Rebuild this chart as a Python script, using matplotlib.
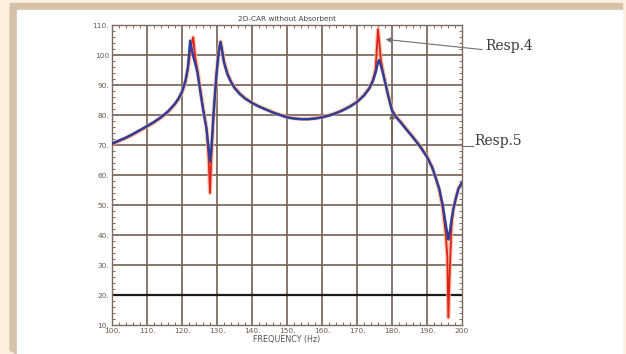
import matplotlib
matplotlib.use("Agg")
import matplotlib.pyplot as plt
from matplotlib.patches import Rectangle, Polygon
import numpy as np

# ---------------- data ----------------
freq = [100, 102, 104, 106, 108, 110, 112, 114, 116, 118, 119, 120, 121, 121.7,
        122.3, 122.8, 123.2, 123.8, 124.4, 125, 126, 127, 127.6, 128, 128.4, 129,
        129.8, 130.5, 131.0, 131.5, 132, 133, 134, 135, 136.5, 138, 140, 142, 144,
        146, 148, 150, 152, 154, 156, 158, 160, 162, 164, 166, 168, 170, 172,
        173.5, 174.5, 175.3, 176.0, 176.3, 176.8, 177.5, 178.3, 179, 180, 181,
        182.5, 184, 186, 188, 190, 191.5, 192.5, 193.5, 194.5, 195.3, 195.8,
        196.1, 196.5, 197, 197.5, 198.3, 199, 200]

resp5 = [70.5, 71.5, 72.5, 73.7, 75.0, 76.3, 77.7, 79.3, 81.2, 83.8, 85.5, 87.8, 91.5, 96,
         104.8, 102, 99.5, 97, 94.2, 89.5, 82, 75.5, 69, 64.5, 69, 80,
         93, 101, 104.3, 101, 97.5, 93.5, 91, 89, 87, 85.5, 84, 82.8, 81.8,
         80.8, 80, 79.2, 78.8, 78.6, 78.6, 78.8, 79.2, 79.8, 80.6, 81.6, 82.8, 84.3, 86.5,
         88.8, 91.2, 94, 97.5, 98.3, 96.5, 93.5, 89.5, 86, 81.5, 79.5,
         77.5, 75.3, 72.5, 69.5, 66, 62.5, 59, 55.5, 50, 44, 40.5,
         38.5, 41, 45, 48.5, 52.5, 55.5, 57.5]

resp4 = [70.2, 71.3, 72.3, 73.5, 74.8, 76.1, 77.5, 79.1, 81.0, 83.6, 85.3, 87.5, 91, 95.5,
         101, 104, 105.9, 99, 95, 90.5, 82.5, 75.5, 66, 54, 66, 80,
         93, 101.5, 104.5, 101.5, 97.8, 93.8, 91.2, 89.2, 87.2, 85.6, 84.1, 82.9, 81.9,
         80.9, 80.1, 79.3, 78.9, 78.7, 78.7, 78.9, 79.3, 79.9, 80.7, 81.7, 82.9, 84.4, 86.6,
         89, 91.5, 95, 108.6, 105, 98.5, 94, 89.8, 86.2, 81.7, 79.7,
         77.7, 75.5, 72.7, 69.7, 66.2, 62.5, 59, 55, 49, 41, 33,
         12.5, 28, 43, 48.5, 52.5, 55.5, 57.5]

x_ticks = [100, 110, 120, 130, 140, 150, 160, 170, 180, 190, 200]
x_ticklabels = ["100.", "110.", "120.", "130.", "140.", "150.", "160.", "170.", "180.", "190.", "200"]
y_ticks = [10, 20, 30, 40, 50, 60, 70, 80, 90, 100, 110]
y_ticklabels = ["10.", "20.", "30.", "40.", "50.", "60.", "70.", "80.", "90.", "100", "110."]

title = "2D-CAR without Absorbent"
xlabel = "FREQUENCY (Hz)"

# annotation anchors (data coordinates)
resp4_text = (206.6, 101.7)
resp4_tip = (177.4, 105.3)
resp5_start = (200.0, 69.6)
resp5_end = (203.2, 69.6)
resp5_corner = (180.0, 70.0)
resp5_tip = (180.0, 81.5)

# ---------------- figure ----------------
W, H = 626, 354
fig = plt.figure(figsize=(W / 100, H / 100), dpi=100)
fig.patch.set_facecolor("#FDF0E0")

def px(x0, y0, x1, y1):
    return (x0 / W, 1 - y1 / H), (x1 - x0) / W, (y1 - y0) / H

cream_tan = "#D5C0A8"
xy, w, h = px(10, 3, 622, 10)
fig.patches.append(Rectangle(xy, w, h, transform=fig.transFigure, color=cream_tan, zorder=-10))
fig.patches.append(Polygon([(10 / W, 1 - 10 / H), (17 / W, 1 - 10 / H), (17 / W, 0), (10 / W, 1 - 350 / H)],
                           closed=True, transform=fig.transFigure, color=cream_tan, zorder=-10))
xy, w, h = px(17, 10, 622, 354)
fig.patches.append(Rectangle(xy, w, h, transform=fig.transFigure, color="white", zorder=-10))

ax = fig.add_axes([112 / W, 1 - 325 / H, 350 / W, 300 / H])
ax.set_zorder(5)
ax.set_facecolor("white")
ax.set_xlim(100, 200)
ax.set_ylim(10, 110)

grid_c = "#735F53"
for xv in x_ticks[1:-1]:
    ax.axvline(xv, color=grid_c, lw=1.2, zorder=1)
for yv in y_ticks[1:-1]:
    ax.axhline(yv, color="#1a1a1a" if yv == 20 else grid_c, lw=1.6 if yv == 20 else 1.2, zorder=1)

ax.plot(freq, resp4, color="#F4B08A", lw=3.0, alpha=0.75, solid_joinstyle="round", zorder=2)
ax.plot(freq, resp4, color="#E0241C", lw=1.3, zorder=3)
ax.plot(freq, resp5, color="#2B3F9E", lw=1.7, zorder=4)

ax.set_xticks(x_ticks)
ax.set_xticklabels(x_ticklabels)
ax.set_yticks(y_ticks)
ax.set_yticklabels(y_ticklabels)
ax.set_xticks(np.arange(100, 201, 2), minor=True)
ax.set_yticks(np.arange(10, 111, 2), minor=True)
ax.tick_params(which="both", direction="in", top=True, right=True, color="#7a6a60",
               labelsize=5.3, labelcolor="#6b5a50", pad=2)
ax.tick_params(which="major", length=0)
ax.tick_params(which="minor", length=2.5, width=0.7)
for s in ax.spines.values():
    s.set_color("#7a6a60")
    s.set_linewidth(1.0)

ax.set_title(title, fontsize=5.3, color="#444444", pad=3)
ax.set_xlabel(xlabel, fontsize=5.8, color="#555555", labelpad=1)

# annotations
line_c = "#707070"
ax.annotate("", xy=resp4_tip, xytext=resp4_text, annotation_clip=False,
            arrowprops=dict(arrowstyle="-|>", color=line_c, lw=0.8, mutation_scale=7))
ax.text(resp4_text[0], resp4_text[1] + 1.3, "Resp.4", family="DejaVu Serif", fontsize=10,
        color="#3a3a3a", va="center", ha="left", clip_on=False)
ax.plot([resp5_start[0], resp5_end[0]], [resp5_start[1], resp5_end[1]], color=line_c, lw=0.8,
        clip_on=False, zorder=5)
ax.annotate("", xy=resp5_tip, xytext=resp5_corner, annotation_clip=False,
            arrowprops=dict(arrowstyle="-|>", color=grid_c, lw=1.0, mutation_scale=7))
ax.text(resp5_end[0] + 0.3, resp5_end[1] + 1.7, "Resp.5", family="DejaVu Serif", fontsize=10,
        color="#3a3a3a", va="center", ha="left", clip_on=False)

fig.savefig("out.png", dpi=100, facecolor=fig.get_facecolor())
